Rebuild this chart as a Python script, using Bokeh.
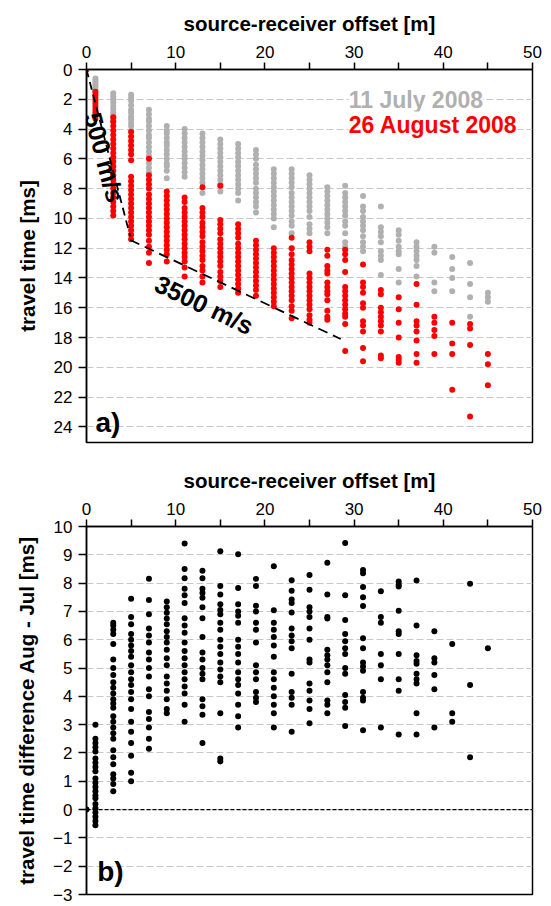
from bokeh.plotting import figure
from bokeh.models import Range1d, Label, Span, FixedTicker
from bokeh.layouts import column
from bokeh.embed import file_html
from bokeh.resources import INLINE

# ---------------- data ----------------
offsets = [0, 1, 3, 5, 7, 9, 11, 13, 15, 17, 19, 21, 23, 25, 27, 29, 31, 33, 35, 37, 39, 41, 43, 45]

july_ms = [
    [0.0],
    [0.6, 0.75, 0.9, 1.05, 1.2, 1.35, 1.5],
    [1.6, 1.8, 2.0, 2.2, 2.45, 2.65, 2.9, 3.1, 3.3, 3.5],
    [1.7, 1.9, 2.1, 2.4, 2.7, 2.9, 3.15, 3.35, 3.6, 3.8, 4.1],
    [2.7, 3.0, 3.3, 3.5, 3.8, 4.1, 4.4, 4.6, 4.9, 5.2, 5.5, 5.8, 6.3, 6.6, 6.9],
    [3.8, 4.1, 4.3, 4.6, 4.9, 5.1, 5.4, 5.7, 6.0, 6.3, 6.5, 6.8, 7.3],
    [4.0, 4.3, 4.6, 4.9, 5.2, 5.5, 5.8, 6.0, 6.3, 6.6, 6.9, 7.2],
    [4.3, 4.6, 4.9, 5.2, 5.5, 5.8, 6.1, 6.4, 6.7, 7.0, 7.3, 7.6, 8.3],
    [4.7, 5.0, 5.3, 5.6, 5.9, 6.2, 6.5, 6.8, 7.1, 7.4, 7.7, 8.2],
    [5.0, 5.3, 5.6, 5.9, 6.2, 6.5, 6.8, 7.1, 7.4, 7.7, 8.0, 8.3, 8.8],
    [5.4, 5.7, 6.0, 6.4, 6.7, 7.0, 7.3, 7.6, 8.0, 8.3, 8.6, 8.9, 9.2, 9.6],
    [6.7, 7.0, 7.3, 7.6, 7.9, 8.2, 8.5, 8.8, 9.1, 9.4, 9.7, 10.0, 10.6],
    [6.7, 7.0, 7.3, 7.6, 7.9, 8.3, 8.6, 8.9, 9.2, 9.5, 9.8, 10.2, 10.5, 11.0, 12.0],
    [7.1, 7.4, 7.7, 8.0, 8.3, 8.6, 8.9, 9.2, 9.5, 9.9, 10.4, 10.7, 11.0],
    [7.9, 8.2, 8.5, 8.8, 9.1, 9.4, 9.7, 10.0, 10.3, 10.6, 11.0],
    [7.8, 8.3, 8.6, 8.9, 9.2, 9.5, 9.8, 10.2, 10.5, 11.0, 11.6, 11.9],
    [8.5, 9.2, 9.5, 9.9, 10.2, 10.5, 10.8, 11.2, 11.6, 11.9, 12.2],
    [9.2, 10.6, 10.9, 11.2, 11.6, 12.2, 12.5, 12.8, 13.8],
    [10.8, 11.1, 11.5, 11.9, 12.2, 12.4, 13.4, 14.3],
    [11.6, 11.9, 12.2, 12.5, 12.8, 13.2, 13.9],
    [11.9, 12.3, 14.3, 14.9],
    [12.6, 13.4, 14.0, 14.9],
    [13.0, 14.4, 15.3, 16.6],
    [15.0, 15.3, 15.6],
]

august_ms = [
    [0.0],
    [1.5, 1.7, 1.9, 2.1, 2.3, 2.5, 2.7, 2.9, 3.1, 3.3],
    [3.2, 3.5, 3.8, 4.1, 4.4, 4.7, 5.0, 5.3, 5.6, 5.9, 6.2, 6.5, 6.8, 7.1, 7.4, 7.7, 8.0, 8.3, 8.6, 8.9, 9.2, 9.5, 9.8],
    [4.2, 4.5, 4.8, 5.1, 5.4, 5.7, 6.1, 7.2, 7.5, 7.8, 8.1, 8.4, 8.7, 9.0, 9.3, 9.6, 9.9, 10.2, 10.5, 10.8, 11.1, 11.4],
    [6.0, 7.1, 7.4, 7.7, 8.0, 8.4, 8.7, 9.0, 9.3, 9.6, 9.9, 10.2, 10.5, 10.8, 11.1, 11.5, 11.9, 12.3, 13.0],
    [8.2, 8.5, 8.8, 9.1, 9.4, 9.7, 10.0, 10.3, 10.6, 10.9, 11.2, 11.5, 11.8, 12.1, 12.4, 12.9],
    [8.6, 8.9, 9.3, 9.6, 9.9, 10.2, 10.5, 10.8, 11.1, 11.4, 11.7, 12.0, 12.3, 12.6, 12.9, 13.3, 13.9],
    [7.9, 9.3, 9.6, 9.9, 10.3, 10.6, 10.9, 11.2, 11.6, 11.9, 12.2, 12.5, 12.8, 13.2, 13.5, 13.9, 14.3],
    [7.8, 10.1, 10.4, 10.7, 11.0, 11.4, 11.7, 12.0, 12.3, 12.6, 12.9, 13.2, 13.6, 13.9, 14.2, 14.6],
    [10.4, 10.7, 11.0, 11.3, 11.7, 12.0, 12.3, 12.6, 12.9, 13.2, 13.5, 13.8, 14.1, 14.4, 14.7, 15.0],
    [11.5, 11.8, 12.1, 12.4, 12.7, 13.0, 13.3, 13.6, 13.9, 14.2, 14.5, 14.8, 15.2],
    [12.0, 12.3, 12.6, 12.9, 13.2, 13.5, 13.8, 14.1, 14.4, 14.7, 15.0, 15.3, 15.6, 15.9],
    [11.3, 12.0, 12.4, 12.8, 13.1, 13.4, 13.7, 14.0, 14.3, 14.6, 14.9, 15.2, 15.5, 15.9, 16.2, 16.7],
    [11.6, 11.9, 12.2, 13.7, 14.0, 14.3, 14.6, 14.9, 15.2, 15.5, 15.8, 16.1, 16.5, 16.8, 17.0],
    [12.1, 12.5, 13.2, 13.5, 13.7, 14.3, 14.6, 14.9, 15.1, 15.5, 16.2, 16.6, 16.8],
    [12.1, 12.4, 12.8, 13.6, 14.6, 14.9, 15.2, 15.5, 15.8, 16.1, 16.4, 16.6, 17.1, 18.9],
    [13.1, 14.3, 14.6, 15.0, 15.7, 16.0, 16.9, 17.2, 17.6, 18.7, 19.6],
    [14.8, 15.1, 16.0, 16.3, 16.6, 16.9, 17.2, 17.6, 19.2, 19.4],
    [15.3, 16.1, 17.0, 18.0, 19.3, 19.5, 19.7],
    [14.4, 15.8, 16.9, 17.2, 17.6, 18.2, 19.1, 19.7],
    [16.6, 17.0, 17.5, 17.9, 19.1],
    [17.0, 18.4, 19.1, 21.5],
    [17.1, 17.4, 18.5, 23.3],
    [19.1, 19.8, 21.2],
]

diff_ms = [
    [0.0],
    [3.0, 2.5, 2.35, 2.2, 2.05, 1.8, 1.65, 1.5, 1.35, 1.1, 0.95, 0.8, 0.65, 0.5, 0.4, 0.2, 0.05, -0.1, -0.25, -0.4, -0.55],
    [6.6, 6.5, 6.35, 6.2, 5.85, 5.3, 5.0, 4.75, 4.5, 4.3, 4.1, 3.9, 3.75, 3.6, 3.3, 3.1, 2.9, 2.7, 2.5, 2.1, 1.85, 1.6, 1.25, 1.1, 0.9, 0.65],
    [7.45, 6.8, 6.55, 6.2, 6.0, 5.8, 5.6, 5.4, 5.1, 4.85, 4.6, 4.4, 4.15, 3.9, 3.55, 3.1, 2.75, 2.35, 1.9, 1.3, 1.0],
    [8.15, 7.4, 6.9, 6.4, 6.15, 5.9, 5.55, 5.3, 5.0, 4.7, 4.25, 4.0, 3.45, 3.2, 2.9, 2.5, 2.15],
    [7.35, 7.15, 6.95, 6.75, 6.55, 6.3, 6.1, 5.9, 5.65, 5.35, 5.1, 4.7, 4.45, 4.2, 3.9, 3.55, 3.4],
    [9.4, 8.5, 8.17, 7.8, 7.57, 7.3, 6.76, 6.5, 6.25, 5.9, 5.6, 5.35, 5.1, 4.85, 4.6, 4.35, 4.1, 3.7, 3.1],
    [8.44, 8.17, 7.8, 7.65, 7.48, 7.15, 6.76, 6.1, 5.55, 5.3, 5.0, 4.8, 4.6, 3.9, 3.65, 3.35, 2.35],
    [9.13, 7.9, 7.6, 7.25, 7.05, 6.9, 6.6, 6.35, 6.0, 5.75, 5.5, 5.2, 4.95, 4.7, 4.5, 3.4, 1.8, 1.7],
    [9.02, 7.83, 7.25, 7.0, 6.85, 6.6, 6.0, 5.75, 5.5, 5.2, 4.85, 4.6, 4.4, 4.1, 3.7, 3.3, 2.9],
    [8.15, 7.9, 7.2, 7.0, 6.6, 6.35, 5.9, 5.1, 4.85, 4.6, 4.15, 3.95, 3.8],
    [8.6, 7.04, 6.6, 6.35, 6.1, 5.8, 5.4, 4.85, 4.6, 4.3, 4.0, 3.7, 3.4, 2.9],
    [8.1, 7.73, 7.42, 7.3, 6.96, 6.4, 6.15, 5.95, 5.7, 4.8, 4.15, 3.95, 3.7, 2.75],
    [8.29, 7.77, 7.15, 7.0, 6.8, 6.4, 6.0, 5.3, 5.2, 4.45, 4.2, 3.85, 3.55, 3.05],
    [8.72, 7.6, 6.8, 6.75, 5.65, 5.45, 5.3, 5.1, 4.85, 4.5, 3.85, 3.7, 3.4],
    [9.42, 7.57, 6.7, 6.2, 5.95, 5.7, 5.5, 5.0, 4.8, 4.05, 3.8, 3.6, 2.95],
    [8.46, 8.35, 7.86, 7.5, 7.19, 6.05, 5.7, 5.2, 5.05, 4.9, 4.15, 3.95, 3.85, 2.8],
    [7.71, 6.8, 6.6, 5.5, 5.1, 4.6, 2.9],
    [8.06, 7.95, 7.88, 7.02, 6.3, 6.2, 5.5, 4.6, 4.2, 2.65],
    [8.09, 6.5, 5.45, 5.25, 5.15, 4.8, 4.6, 4.45, 3.4, 2.65],
    [6.3, 5.35, 5.2, 4.75, 4.25, 2.9],
    [5.85, 3.4, 3.1],
    [7.98, 4.4, 1.85],
    [5.7],
]

# refraction lines (offset m, travel time ms)
line500_m = [0.0, 4.9]
line500_ms = [0.0, 11.2]
line3500_m = [4.9, 28.5]
line3500_ms = [11.45, 18.1]

x_ticks = [0, 10, 20, 30, 40, 50]
x_minor_ticks = [5, 15, 25, 35, 45]
top_y_ticks = [0, 2, 4, 6, 8, 10, 12, 14, 16, 18, 20, 22, 24]
bot_y_ticks = [-3, -2, -1, 0, 1, 2, 3, 4, 5, 6, 7, 8, 9, 10]


def flatten(xs, groups):
    px, py = [], []
    for x, vals in zip(xs, groups):
        for v in vals:
            px.append(x)
            py.append(v)
    return px, py


FONT = "Liberation Sans"
GRAY = "#b0b0b0"
RED = "#ff0000"
GRID = "#c8c8c8"
DOT = 6


def style(p, yticks):
    p.xaxis.ticker = FixedTicker(ticks=x_ticks, minor_ticks=x_minor_ticks)
    p.yaxis.ticker = FixedTicker(ticks=yticks)
    for ax in p.axis:
        ax.axis_label_text_font = FONT
        ax.axis_label_text_font_style = "bold"
        ax.axis_label_text_font_size = "20.5px"
        ax.axis_label_text_color = "black"
        ax.major_label_text_font = FONT
        ax.major_label_text_font_size = "17px"
        ax.major_label_text_color = "black"
        ax.axis_line_color = "black"
        ax.axis_line_width = 1.5
        ax.major_tick_line_color = "black"
        ax.major_tick_line_width = 1.5
        ax.minor_tick_line_color = "black"
        ax.minor_tick_line_width = 1.5
        ax.major_tick_in = 0
        ax.minor_tick_in = 0
    p.xaxis.major_tick_out = 7
    p.xaxis.minor_tick_out = 7
    p.xaxis.major_label_standoff = 5
    p.xaxis.axis_label_standoff = 8
    p.yaxis.major_tick_out = 8
    p.yaxis.minor_tick_out = 0
    p.yaxis.major_label_standoff = 6
    p.yaxis.axis_label_standoff = 12
    p.xgrid.grid_line_color = None
    p.ygrid.grid_line_color = GRID
    p.ygrid.grid_line_dash = "7 3"
    p.ygrid.grid_line_width = 1
    p.outline_line_color = "black"
    p.outline_line_width = 1.5
    p.outline_line_alpha = 1.0
    p.background_fill_color = "white"
    p.border_fill_color = "white"


# ---------------- panel a ----------------
p1 = figure(width=543, height=462, x_range=Range1d(0, 50), y_range=Range1d(25.05, 0),
            x_axis_location="above", output_backend="svg", toolbar_location=None,
            min_border_left=86, min_border_right=11, min_border_top=69, min_border_bottom=20)
p1.xaxis.axis_label = "source-receiver offset [m]"
p1.yaxis.axis_label = "travel time [ms]"
style(p1, top_y_ticks)

jx, jy = flatten(offsets, july_ms)
ax_, ay = flatten(offsets, august_ms)
p1.scatter(x=jx, y=jy, size=DOT, color=GRAY, line_color=None)
p1.scatter(x=ax_, y=ay, size=DOT, color=RED, line_color=None)
p1.line(x=line500_m, y=line500_ms, line_color="black", line_width=1.8, line_dash="8 5")
p1.line(x=line3500_m, y=line3500_ms, line_color="black", line_width=1.8, line_dash="10 6")

p1.add_layout(Label(x=2.0, y=5.9, text="500 m/s", angle=-75, angle_units="deg",
                    text_align="center", text_baseline="middle", text_font=FONT,
                    text_font_size="25px", text_font_style="bold", text_color="black"))
p1.add_layout(Label(x=13.2, y=15.8, text="3500 m/s", angle=-25.4, angle_units="deg",
                    text_align="center", text_baseline="middle", text_font=FONT,
                    text_font_size="25px", text_font_style="bold", text_color="black"))
p1.add_layout(Label(x=29.4, y=2.07, text="11 July 2008", text_align="left",
                    text_baseline="middle", text_font=FONT, text_font_size="23px",
                    text_font_style="bold", text_color=GRAY,
                    background_fill_color="white", background_fill_alpha=1.0))
p1.add_layout(Label(x=29.4, y=3.7, text="26 August 2008", text_align="left",
                    text_baseline="middle", text_font=FONT, text_font_size="23px",
                    text_font_style="bold", text_color=RED,
                    background_fill_color="white", background_fill_alpha=1.0))
p1.add_layout(Label(x=1.0, y=23.7, text="a)", text_align="left", text_baseline="middle",
                    text_font=FONT, text_font_size="28px", text_font_style="bold",
                    text_color="black"))

# ---------------- panel b ----------------
p2 = figure(width=543, height=443, x_range=Range1d(0, 50), y_range=Range1d(-3, 10),
            x_axis_location="above", output_backend="svg", toolbar_location=None,
            min_border_left=86, min_border_right=11, min_border_top=64, min_border_bottom=11)
p2.xaxis.axis_label = "source-receiver offset [m]"
p2.yaxis.axis_label = "travel time difference Aug - Jul [ms]"
style(p2, bot_y_ticks)

p2.add_layout(Span(location=0, dimension="width", line_color="black", line_width=1.2,
                   line_dash="4 2"))
dx, dy = flatten(offsets, diff_ms)
p2.scatter(x=dx, y=dy, size=DOT, color="black", line_color=None)
p2.add_layout(Label(x=1.2, y=-2.17, text="b)", text_align="left", text_baseline="middle",
                    text_font=FONT, text_font_size="28px", text_font_style="bold",
                    text_color="black"))

layout = column(p1, p2, spacing=0)
open("out.html", "w").write(file_html(layout, INLINE))
